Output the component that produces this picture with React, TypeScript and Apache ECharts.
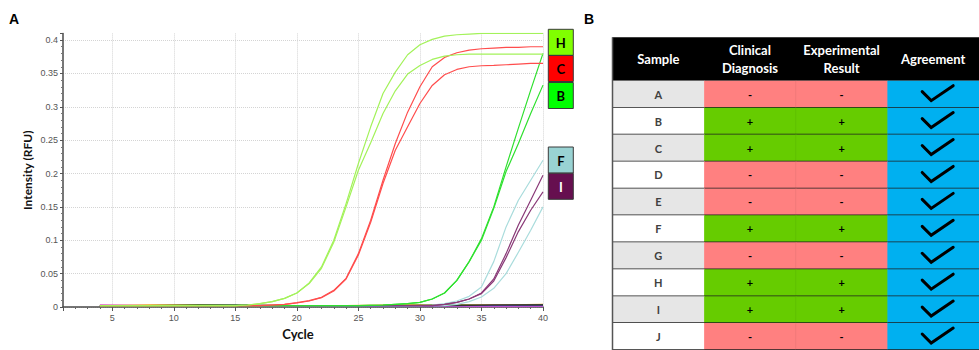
import React, { useEffect, useRef } from "react";
import * as echarts from "echarts";

// ---------- Panel A data (qPCR amplification curves) ----------
const CYCLES = [4, 5, 6, 7, 8, 9, 10, 11, 12, 13, 14, 15, 16, 17, 18, 19, 20, 21, 22, 23, 24, 25, 26, 27, 28, 29, 30, 31, 32, 33, 34, 35, 36, 37, 38, 39, 40];

const H1 = [0.002, 0.002, 0.002, 0.002, 0.002, 0.002, 0.002, 0.002, 0.002, 0.002, 0.002, 0.002, 0.003, 0.005, 0.008, 0.013, 0.021, 0.036, 0.06, 0.1, 0.155, 0.215, 0.27, 0.32, 0.352, 0.378, 0.393, 0.401, 0.406, 0.408, 0.409, 0.41, 0.41, 0.41, 0.41, 0.41, 0.41];
const H2 = [0.002, 0.002, 0.002, 0.002, 0.002, 0.002, 0.002, 0.002, 0.002, 0.002, 0.002, 0.002, 0.003, 0.005, 0.008, 0.013, 0.021, 0.035, 0.058, 0.097, 0.15, 0.205, 0.246, 0.29, 0.324, 0.349, 0.362, 0.371, 0.376, 0.378, 0.379, 0.379, 0.379, 0.379, 0.379, 0.379, 0.379];
const C1 = [0.002, 0.002, 0.002, 0.002, 0.002, 0.002, 0.002, 0.002, 0.002, 0.002, 0.002, 0.002, 0.002, 0.002, 0.003, 0.004, 0.0065, 0.0095, 0.0145, 0.025, 0.043, 0.08, 0.13, 0.19, 0.245, 0.292, 0.33, 0.36, 0.374, 0.381, 0.385, 0.387, 0.388, 0.389, 0.389, 0.39, 0.39];
const C2 = [0.002, 0.002, 0.002, 0.002, 0.002, 0.002, 0.002, 0.002, 0.002, 0.002, 0.002, 0.002, 0.002, 0.002, 0.003, 0.004, 0.006, 0.009, 0.014, 0.024, 0.042, 0.078, 0.127, 0.185, 0.235, 0.27, 0.305, 0.332, 0.348, 0.356, 0.36, 0.3615, 0.362, 0.363, 0.364, 0.365, 0.365];
const B1 = [0.002, 0.002, 0.002, 0.002, 0.002, 0.002, 0.002, 0.002, 0.002, 0.002, 0.002, 0.002, 0.002, 0.002, 0.002, 0.002, 0.002, 0.002, 0.002, 0.002, 0.002, 0.002, 0.0025, 0.003, 0.004, 0.005, 0.007, 0.012, 0.021, 0.04, 0.068, 0.1025, 0.15, 0.21, 0.268, 0.325, 0.38];
const B2 = [0.002, 0.002, 0.002, 0.002, 0.002, 0.002, 0.002, 0.002, 0.002, 0.002, 0.002, 0.002, 0.002, 0.002, 0.002, 0.002, 0.002, 0.002, 0.002, 0.002, 0.002, 0.002, 0.0025, 0.003, 0.004, 0.005, 0.007, 0.012, 0.021, 0.04, 0.068, 0.1, 0.148, 0.203, 0.245, 0.29, 0.3325];
const F1 = [0.002, 0.002, 0.002, 0.002, 0.002, 0.002, 0.002, 0.002, 0.002, 0.002, 0.002, 0.002, 0.002, 0.002, 0.002, 0.002, 0.002, 0.002, 0.002, 0.002, 0.002, 0.002, 0.002, 0.002, 0.002, 0.002, 0.002, 0.003, 0.005, 0.009, 0.016, 0.03, 0.068, 0.12, 0.16, 0.19, 0.22];
const F2 = [0.002, 0.002, 0.002, 0.002, 0.002, 0.002, 0.002, 0.002, 0.002, 0.002, 0.002, 0.002, 0.002, 0.002, 0.002, 0.002, 0.002, 0.002, 0.002, 0.002, 0.002, 0.002, 0.002, 0.002, 0.002, 0.002, 0.002, 0.002, 0.002, 0.004, 0.008, 0.015, 0.028, 0.05, 0.082, 0.115, 0.15];
const I1 = [0.002, 0.002, 0.002, 0.002, 0.002, 0.002, 0.002, 0.002, 0.002, 0.002, 0.002, 0.002, 0.002, 0.002, 0.002, 0.002, 0.002, 0.002, 0.002, 0.002, 0.002, 0.002, 0.002, 0.002, 0.002, 0.002, 0.002, 0.002, 0.004, 0.007, 0.012, 0.021, 0.042, 0.08, 0.123, 0.16, 0.1975];
const I2 = [0.002, 0.002, 0.002, 0.002, 0.002, 0.002, 0.002, 0.002, 0.002, 0.002, 0.002, 0.002, 0.002, 0.002, 0.002, 0.002, 0.002, 0.002, 0.002, 0.002, 0.002, 0.002, 0.002, 0.002, 0.002, 0.002, 0.002, 0.002, 0.004, 0.007, 0.012, 0.02, 0.039, 0.074, 0.113, 0.145, 0.1725];

// negative samples (flat baselines), sampled every 4 cycles
const BASE_CYCLES = [4, 8, 12, 16, 20, 24, 28, 32, 36, 40];
const NEG_A = [0.002, 0.003, 0.003, 0.002, 0.002, 0.002, 0.003, 0.003, 0.003, 0.004];
const NEG_D = [0.001, 0.002, 0.003, 0.003, 0.002, 0.002, 0.002, 0.003, 0.002, 0.003];
const NEG_E = [0.003, 0.002, 0.002, 0.002, 0.001, 0.001, 0.001, 0.001, 0.0005, 0.001];
const NEG_G = [0.002, 0.002, 0.002, 0.002, 0.002, 0.001, 0.001, 0.002, 0.002, 0.002];
const NEG_J = [0.001, 0.002, 0.002, 0.002, 0.002, 0.002, 0.002, 0.002, 0.003, 0.003];

const CURVE_LABELS = ["H", "C", "B", "F", "I"];

// ---------- Panel B data (table) ----------
const HEADERS = ["Sample", "Clinical\nDiagnosis", "Experimental\nResult", "Agreement"];
const SAMPLES = ["A", "B", "C", "D", "E", "F", "G", "H", "I", "J"];
const CLINICAL = ["-", "+", "+", "-", "-", "+", "-", "+", "+", "-"];
const EXPERIMENTAL = ["-", "+", "+", "-", "-", "+", "-", "+", "+", "-"];
const AGREEMENT = [true, true, true, true, true, true, true, true, true, true];

// ---------- styles ----------
const COL_H = "#a3f25a";
const COL_C = "#ff4d4d";
const COL_B = "#2fe02f";
const COL_F = "#a9dcdc";
const COL_I = "#8a3a78";
const BOX_COLORS: Record<string, string> = { H: "#80ff00", C: "#ff0000", B: "#00ff00", F: "#99d3d3", I: "#660f4f" };
const BOX_TEXT: Record<string, string> = { H: "#000", C: "#000", B: "#000", F: "#000", I: "#fff" };
const BOX_Y: Record<string, number> = { H: 29.3, C: 55.5, B: 82.5, F: 147, I: 173.3 };

const pairs = (xs: number[], ys: number[]) => xs.map((x, i) => [x, ys[i]]);

function lineSeries(name: string, xs: number[], ys: number[], color: string, width = 1.2) {
  return {
    type: "line",
    name,
    xAxisIndex: 0,
    yAxisIndex: 0,
    data: pairs(xs, ys),
    showSymbol: false,
    symbol: "none",
    smooth: false,
    lineStyle: { color, width, join: "round" },
    itemStyle: { color },
    z: 3,
  };
}

const TABLE_CELLS: number[][] = [];
SAMPLES.forEach((_, r) => {
  for (let c = 0; c < HEADERS.length; c++) TABLE_CELLS.push([c, r]);
});

function renderCell(params: any, api: any) {
  const col = api.value(0) as number;
  const row = api.value(1) as number;
  const ctr = api.coord([col, row]);
  const sz = api.size([1, 1]);
  const w = sz[0];
  const h = sz[1];
  const x0 = ctr[0] - w / 2;
  const y0 = ctr[1] - h / 2;
  const children: any[] = [];
  let fill = "#fff";
  let text = "";
  let textColor = "#000";
  let fontSize = 11;
  if (col === 0) {
    fill = row % 2 === 0 ? "#e6e6e6" : "#ffffff";
    text = SAMPLES[row];
    textColor = "#404040";
    fontSize = 11;
  } else if (col === 1 || col === 2) {
    const v = col === 1 ? CLINICAL[row] : EXPERIMENTAL[row];
    fill = v === "+" ? "#66cc00" : "#ff8080";
    text = v;
  } else {
    fill = "#00b0f0";
  }
  children.push({ type: "rect", shape: { x: x0, y: y0, width: w + 0.6, height: h }, style: { fill } });
  if (col === 2) {
    children.push({ type: "line", shape: { x1: x0, y1: y0, x2: x0, y2: y0 + h }, style: { stroke: "rgba(0,0,0,0.06)", lineWidth: 1 } });
  }
  if (text) {
    children.push({
      type: "text",
      x: ctr[0],
      y: ctr[1],
      style: { text, fill: textColor, fontSize, fontWeight: "bold", fontFamily: "Lato", align: "center", verticalAlign: "middle" },
    });
  }
  if (col === 3 && AGREEMENT[row]) {
    const cx = ctr[0];
    const cy = ctr[1];
    children.push({
      type: "polyline",
      shape: { points: [[cx - 11, cy - 2.5], [cx - 2, cy + 6.5], [cx + 20, cy - 8.5]] },
      style: { stroke: "#000", lineWidth: 3, fill: "none", lineCap: "round", lineJoin: "miter" },
    });
  }
  children.push({ type: "line", shape: { x1: x0, y1: y0 + h, x2: x0 + w + 1, y2: y0 + h }, style: { stroke: "#1e1e1e", lineWidth: 1.5 } });
  return { type: "group", children };
}

const TABLE_LEFT = 612.5;
const TABLE_TOP = 80.7;
const ROW_H = 27.33;
const COL_W = 93.6;

const graphics: any[] = [
  { type: "text", left: 9, top: 12, style: { text: "A", fontSize: 14, fontWeight: "bold", fill: "#000", fontFamily: "Liberation Sans" } },
  { type: "text", left: 584, top: 12, style: { text: "B", fontSize: 14, fontWeight: "bold", fill: "#000", fontFamily: "Liberation Sans" } },
  { type: "rect", z: 0, shape: { x: TABLE_LEFT, y: 37.3, width: 380, height: TABLE_TOP - 37.3 }, style: { fill: "#000" } },
  { type: "line", z: 10, shape: { x1: TABLE_LEFT, y1: 37.3, x2: TABLE_LEFT, y2: 350 }, style: { stroke: "#555", lineWidth: 1.5 } },
];
CURVE_LABELS.forEach((k) => {
  graphics.push({
    type: "rect",
    z: 5,
    shape: { x: 548.3, y: BOX_Y[k], width: 25, height: 26 },
    style: { fill: BOX_COLORS[k], stroke: "#3a3a3a", lineWidth: 1 },
  });
  graphics.push({
    type: "text",
    z: 6,
    x: 560.8,
    y: BOX_Y[k] + 13.5,
    style: { text: k, fill: BOX_TEXT[k], fontSize: 13, fontWeight: "bold", fontFamily: "Lato", align: "center", verticalAlign: "middle" },
  });
});

const option: any = {
  animation: false,
  backgroundColor: "#ffffff",
  grid: [
    { left: 63, top: 33.4, width: 480, height: 273.6, containLabel: false },
    { left: TABLE_LEFT, top: TABLE_TOP, width: COL_W * 4, height: ROW_H * 10, containLabel: false },
  ],
  xAxis: [
    {
      type: "value",
      gridIndex: 0,
      min: 1,
      max: 40,
      minInterval: 5,
      maxInterval: 5,
      splitNumber: 8,
      name: "Cycle",
      nameLocation: "middle",
      nameGap: 20,
      nameTextStyle: { fontWeight: "bold", fontSize: 13, color: "#111", fontFamily: "Lato", padding: [0, 10, 0, 0] },
      axisLine: { show: true, lineStyle: { color: "#4a4a4a", width: 1.5 } },
      axisTick: { show: true, length: 4, lineStyle: { color: "#555" } },
      minorTick: { show: true, splitNumber: 5, length: 2, lineStyle: { color: "#666" } },
      axisLabel: { fontSize: 9, color: "#555", margin: 6, fontFamily: "Liberation Sans", showMinLabel: false },
      splitLine: { show: true, showMinLine: false, lineStyle: { color: "#d4d4d4", type: "dotted", width: 1 } },
    },
    {
      type: "category",
      gridIndex: 1,
      position: "top",
      data: HEADERS,
      z: 8,
      axisLine: { show: false },
      axisTick: { show: false },
      splitLine: { show: false },
      axisLabel: {
        interval: 0,
        color: "#ffffff",
        fontSize: 13,
        fontWeight: "bold",
        fontFamily: "Lato",
        lineHeight: 18,
        verticalAlign: "middle",
        margin: 21.5,
      },
    },
  ],
  yAxis: [
    {
      type: "value",
      gridIndex: 0,
      min: 0,
      max: 0.41,
      interval: 0.05,
      name: "Intensity (RFU)",
      nameLocation: "middle",
      nameRotate: 90,
      nameGap: 30,
      nameTextStyle: { fontWeight: "bold", fontSize: 12, color: "#111", fontFamily: "Lato" },
      axisLine: { show: true, lineStyle: { color: "#4a4a4a", width: 1.5 } },
      axisTick: { show: true, length: 3, lineStyle: { color: "#555" } },
      minorTick: { show: true, splitNumber: 5, length: 2, lineStyle: { color: "#777" } },
      axisLabel: { fontSize: 9, color: "#555", margin: 5, fontFamily: "Liberation Sans", showMaxLabel: false },
      splitLine: { show: true, showMaxLine: false, lineStyle: { color: "#d4d4d4", type: "dotted", width: 1 } },
    },
    {
      type: "category",
      gridIndex: 1,
      inverse: true,
      data: SAMPLES,
      show: false,
    },
  ],
  graphic: graphics,
  series: [
    lineSeries("A", BASE_CYCLES, NEG_A, "#f0a020", 1.3),
    lineSeries("D", BASE_CYCLES, NEG_D, "#2d6a2d", 1.3),
    lineSeries("E", BASE_CYCLES, NEG_E, "#e050c8", 1.3),
    lineSeries("G", BASE_CYCLES, NEG_G, "#5a5aff", 1.3),
    lineSeries("J", BASE_CYCLES, NEG_J, "#333333", 1.3),
    lineSeries("F1", CYCLES, F1, COL_F),
    lineSeries("F2", CYCLES, F2, COL_F),
    lineSeries("I1", CYCLES, I1, COL_I),
    lineSeries("I2", CYCLES, I2, COL_I),
    lineSeries("B1", CYCLES, B1, COL_B),
    lineSeries("B2", CYCLES, B2, COL_B),
    lineSeries("C1", CYCLES, C1, COL_C),
    lineSeries("C2", CYCLES, C2, COL_C),
    lineSeries("H1", CYCLES, H1, COL_H),
    lineSeries("H2", CYCLES, H2, COL_H),
    {
      type: "custom",
      name: "table",
      xAxisIndex: 1,
      yAxisIndex: 1,
      data: TABLE_CELLS,
      renderItem: renderCell,
      clip: false,
      z: 2,
    },
  ],
};

export default function App() {
  const ref = useRef<HTMLDivElement>(null);
  useEffect(() => {
    document.body.style.margin = "0";
    const chart = echarts.init(ref.current as HTMLDivElement, null, { renderer: "svg" });
    chart.setOption(option);
    return () => {
      chart.dispose();
    };
  }, []);
  return <div ref={ref} style={{ width: 979, height: 350 }} />;
}
